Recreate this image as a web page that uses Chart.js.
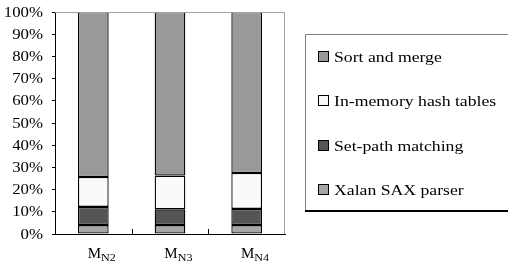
<!DOCTYPE html>
<html>
<head>
<meta charset="utf-8">
<script src="https://cdn.jsdelivr.net/npm/chart.js@4.4.1/dist/chart.umd.min.js"></script>
<style>
  html, body { margin: 0; padding: 0; background: #fff; }
  #wrap { width: 508px; height: 266px; position: relative; }
</style>
</head>
<body>
<div id="wrap"><canvas id="barChart"></canvas></div>
<script>
// Datos (porcentaje de tiempo por fase)
const categories = ['N2', 'N3', 'N4'];
const xalanParser = [4.0, 4.0, 4.0];
const setPathMatching = [8.2, 7.1, 7.3];
const hashTables = [13.5, 15.2, 16.2];
const sortMerge = [74.3, 73.7, 72.5];
const yTicks = [0, 10, 20, 30, 40, 50, 60, 70, 80, 90, 100];

const serif = '"Liberation Serif", "DejaVu Serif", serif';

// Texto un poco estirado en horizontal, como en la figura original
function stretchText(ctx, text, x, y, sx, align) {
    const w = ctx.measureText(text).width * sx;
    let x0 = x;
    if (align === 'right') x0 = x - w;
    if (align === 'center') x0 = x - w / 2;
    ctx.save();
    ctx.translate(x0, y);
    ctx.scale(sx, 1);
    ctx.textAlign = 'left';
    ctx.fillText(text, 0, 0);
    ctx.restore();
    return w;
}

// Leyenda dibujada a mano, en un recuadro a la derecha
const boxLegend = {
    id: 'boxLegend',
    afterDraw(chart) {
        const ctx = chart.ctx;
        ctx.save();
        ctx.strokeStyle = '#808080';
        ctx.lineWidth = 1;
        ctx.beginPath();
        ctx.moveTo(305.5, 211);
        ctx.lineTo(305.5, 34.5);
        ctx.lineTo(508, 34.5);
        ctx.stroke();
        ctx.strokeStyle = '#000';
        ctx.lineWidth = 2;
        ctx.beginPath();
        ctx.moveTo(305, 211);
        ctx.lineTo(508, 211);
        ctx.stroke();

        // items en orden inverso (de arriba hacia abajo)
        const items = chart.data.datasets.slice().reverse();
        const rows = [57, 101, 146, 190];
        ctx.font = '15px ' + serif;
        ctx.textBaseline = 'middle';
        items.forEach((ds, i) => {
            const y = rows[i];
            ctx.fillStyle = ds.backgroundColor;
            ctx.fillRect(318.5, y - 5.5, 10, 10);
            ctx.strokeStyle = '#000';
            ctx.lineWidth = 1;
            ctx.strokeRect(318.5, y - 5.5, 10, 10);
            ctx.fillStyle = '#000';
            stretchText(ctx, ds.label, 334, y + 1, 1.18, 'left');
        });
        ctx.restore();
    }
};

// Etiquetas de ejes: eje Y con %, eje X con subíndice (M_N2, ...)
const axisLabels = {
    id: 'axisLabels',
    afterDraw(chart) {
        const ctx = chart.ctx;
        const xs = chart.scales.x;
        const ys = chart.scales.y;
        const area = chart.chartArea;
        ctx.save();
        ctx.fillStyle = '#000';

        // eje Y
        ctx.font = '14px ' + serif;
        ctx.textBaseline = 'middle';
        yTicks.forEach(v => {
            stretchText(ctx, v + '%', 43, ys.getPixelForValue(v) + 1, 1.2, 'right');
        });

        // eje X: la "M" centrada en la barra, el subíndice a continuación
        ctx.textBaseline = 'alphabetic';
        categories.forEach((c, i) => {
            const cx = xs.getPixelForTick(i);
            ctx.font = '15px ' + serif;
            const wM = stretchText(ctx, 'M', cx + 1, 258, 1.0, 'center');
            ctx.font = '11px ' + serif;
            stretchText(ctx, c, cx + 1 + wM / 2, 261, 1.1, 'left');
        });

        // marcas pequeñas entre categorías
        ctx.strokeStyle = '#000';
        ctx.lineWidth = 1;
        for (let i = 1; i < categories.length; i++) {
            const x = Math.round((xs.getPixelForTick(i - 1) + xs.getPixelForTick(i)) / 2) + 0.5;
            ctx.beginPath();
            ctx.moveTo(x, area.bottom);
            ctx.lineTo(x, area.bottom - 5);
            ctx.stroke();
        }
        // borde superior y derecho en gris
        ctx.strokeStyle = '#a0a0a0';
        ctx.beginPath();
        ctx.moveTo(area.left, area.top + 0.5);
        ctx.lineTo(area.right - 0.5, area.top + 0.5);
        ctx.lineTo(area.right - 0.5, area.bottom);
        ctx.stroke();
        ctx.restore();
    }
};

const datasetStyle = {
    borderColor: '#000',
    borderWidth: 1.3,
    borderSkipped: false,
    barPercentage: 0.4,
    categoryPercentage: 1.0
};

new Chart(document.getElementById('barChart'), {
    type: 'bar',
    data: {
        labels: categories.map(c => 'M' + c),
        datasets: [
            { label: 'Xalan SAX parser', data: xalanParser, backgroundColor: '#a6a6a6', ...datasetStyle },
            { label: 'Set-path matching', data: setPathMatching, backgroundColor: '#555555', ...datasetStyle },
            { label: 'In-memory hash tables', data: hashTables, backgroundColor: '#fafafa', ...datasetStyle },
            { label: 'Sort and merge', data: sortMerge, backgroundColor: '#999999', ...datasetStyle }
        ]
    },
    options: {
        responsive: true,
        maintainAspectRatio: false,
        animation: false,
        layout: { padding: { top: 12, right: 223, left: 0, bottom: 0 } },
        plugins: {
            legend: { display: false },
            tooltip: { enabled: false }
        },
        scales: {
            x: {
                stacked: true,
                grid: { display: false },
                border: { color: '#000', width: 1 },
                ticks: { display: false },
                afterFit: scale => { scale.height = 32; }
            },
            y: {
                stacked: true,
                min: 0,
                max: 100,
                afterBuildTicks: scale => { scale.ticks = yTicks.map(v => ({ value: v })); },
                grid: { drawOnChartArea: false, tickLength: 3, color: '#000' },
                border: { color: '#000', width: 1 },
                ticks: { display: false },
                afterFit: scale => { scale.width = 55; }
            }
        }
    },
    plugins: [boxLegend, axisLabels]
});
</script>
</body>
</html>
